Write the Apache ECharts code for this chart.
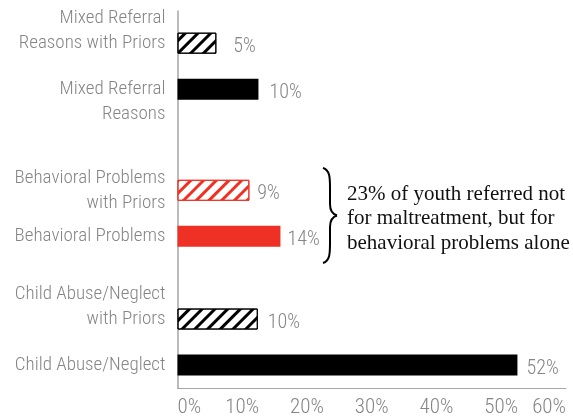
<!DOCTYPE html>
<html>
<head>
<meta charset="utf-8">
<script src="https://cdn.jsdelivr.net/npm/echarts@6/dist/echarts.min.js"></script>
<style>
  html, body { margin: 0; padding: 0; background: #ffffff; }
  #chart { width: 573px; height: 419px; }
</style>
</head>
<body>
<div id="chart"></div>
<script>
// ---- data (top to bottom) ----
const categories = [
  'Mixed Referral\nReasons with Priors',
  'Mixed Referral\nReasons',
  'Behavioral Problems\nwith Priors',
  'Behavioral Problems',
  'Child Abuse/Neglect\nwith Priors',
  'Child Abuse/Neglect'
];
// bar lengths as drawn in the picture (percent on the x axis)
const barValues = [6.0, 12.5, 11.1, 15.9, 12.4, 52.5];
// value labels as printed next to the bars
const valueLabels = ['5%', '10%', '9%', '14%', '10%', '52%'];
const xTickLabels = ['0%', '10%', '20%', '30%', '40%', '50%', '60%'];
const annotationLines = [
  '23% of youth referred not',
  'for maltreatment, but for',
  'behavioral problems alone'
];

// ---- layout / style ----
const SANS = '"Roboto Condensed", "Liberation Sans", sans-serif';
const SERIF = '"Liberation Serif", "DejaVu Serif", serif';
const GRAY = '#858585';
const BLACK = '#000000';
const RED = '#ee3124';
const FONT_SIZE = 19;
const slotCount = 41;
const slotIndex = [3, 8, 19, 24, 33, 38];
const barKind = ['hatchBlack', 'black', 'hatchRed', 'red', 'hatchBlack', 'black'];
const labelShift = ['up', 'down', 'none', 'none', 'up', 'none'];
const labelGap = [17, 11, 8, 7, 10, 9];

function barStyle(kind) {
  const hatch = (c) => ({
    color: '#ffffff',
    borderColor: c,
    borderWidth: 1,
    decal: {
      symbol: 'rect',
      color: c,
      dashArrayX: [1, 0],
      dashArrayY: [2.6, 5.6],
      rotation: -Math.PI / 4
    }
  });
  if (kind === 'hatchBlack') return hatch(BLACK);
  if (kind === 'hatchRed') return hatch(RED);
  if (kind === 'red') return { color: RED };
  return { color: BLACK };
}

const yCats = new Array(slotCount).fill('');
const seriesData = new Array(slotCount).fill('-');
categories.forEach((name, i) => {
  const k = slotIndex[i];
  let txt = name;
  if (labelShift[i] === 'up') txt = name + '\n ';
  if (labelShift[i] === 'down') txt = ' \n' + name;
  yCats[k] = txt;
  seriesData[k] = {
    value: barValues[i],
    itemStyle: barStyle(barKind[i]),
    label: { distance: labelGap[i], formatter: valueLabels[i] }
  };
});

const braceStyle = { fill: null, stroke: '#000', lineWidth: 2 };
const bez = (x1, y1, cpx1, cpy1, cpx2, cpy2, x2, y2) => ({
  type: 'bezierCurve', shape: { x1, y1, cpx1, cpy1, cpx2, cpy2, x2, y2 }, style: braceStyle
});
const seg = (x1, y1, x2, y2) => ({ type: 'line', shape: { x1, y1, x2, y2 }, style: braceStyle });

const chart = echarts.init(document.getElementById('chart'), null, { renderer: 'canvas' });
chart.setOption({
  animation: false,
  backgroundColor: '#ffffff',
  grid: { left: 177.5, right: 7, top: 11, bottom: 31, containLabel: false, outerBoundsMode: 'none' },
  xAxis: {
    type: 'value',
    min: 0,
    max: 60,
    interval: 10,
    axisLine: { show: true, lineStyle: { color: '#a6a6a6', width: 1 } },
    axisTick: { show: false },
    splitLine: { show: false },
    axisLabel: {
      margin: 9,
      color: GRAY,
      fontFamily: SANS,
      fontSize: 21,
      fontWeight: 300,
      alignMinLabel: 'left',
      alignMaxLabel: 'right',
      formatter: (v) => xTickLabels[Math.round(v / 10)]
    }
  },
  yAxis: {
    type: 'category',
    inverse: true,
    data: yCats,
    axisLine: { show: true, lineStyle: { color: '#a6a6a6', width: 1.5 } },
    axisTick: { show: false },
    axisLabel: {
      interval: 0,
      margin: 12,
      color: GRAY,
      fontFamily: SANS,
      fontSize: FONT_SIZE,
      fontWeight: 300,
      lineHeight: 25,
      align: 'right'
    }
  },
  series: [{
    type: 'bar',
    data: seriesData,
    barWidth: 21,
    label: {
      show: true,
      position: 'right',
      offset: [0, 4],
      color: GRAY,
      fontFamily: SANS,
      fontSize: 20,
      fontWeight: 300
    }
  }],
  graphic: [
    bez(323, 168, 330, 170, 330, 178, 330, 188),
    seg(330, 188, 330, 204),
    bez(330, 204, 330, 210, 332, 214, 337, 215.5),
    bez(337, 215.5, 332, 217, 330, 221, 330, 227),
    seg(330, 227, 330, 243),
    bez(330, 243, 330, 253, 330, 261, 323, 263),
    {
      type: 'text',
      left: 347,
      top: 182,
      style: {
        text: annotationLines.join('\n'),
        fontFamily: SERIF,
        fontSize: 21,
        lineHeight: 24.5,
        fill: '#111'
      }
    }
  ]
});
</script>
</body>
</html>
